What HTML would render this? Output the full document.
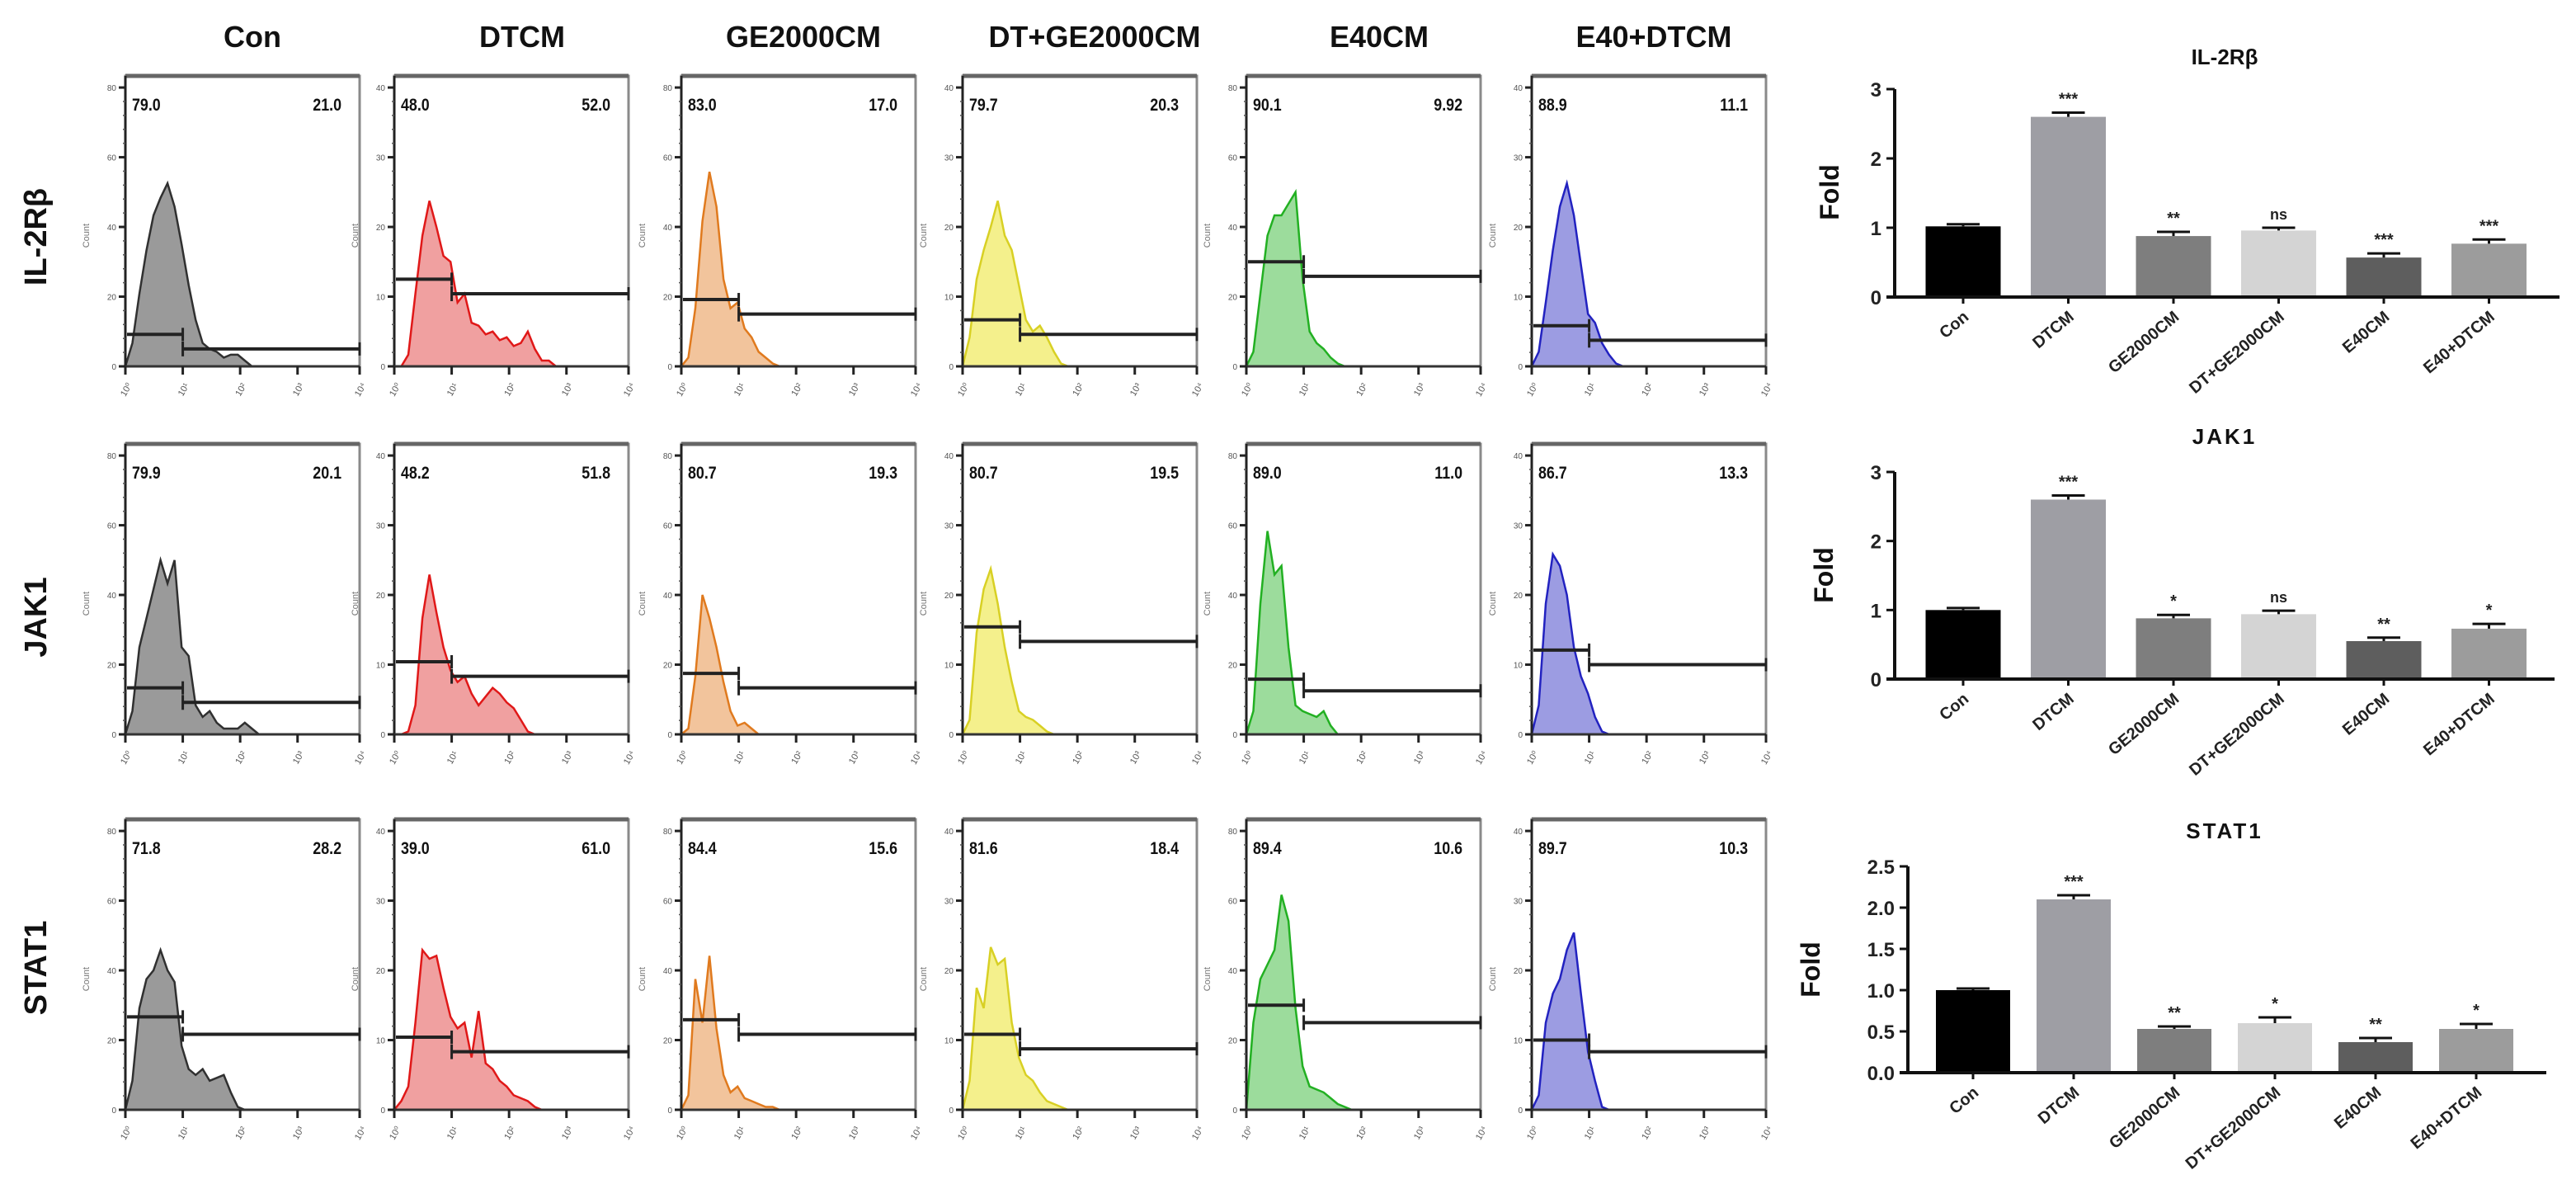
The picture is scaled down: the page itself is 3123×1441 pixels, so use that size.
<!DOCTYPE html>
<html><head><meta charset="utf-8">
<style>
html,body{margin:0;padding:0;background:#fff;}
svg{display:block;font-family:"Liberation Sans",Arial,sans-serif;}
</style></head>
<body>
<svg id="fig" width="3123" height="1441" viewBox="0 0 3123 1441" xmlns="http://www.w3.org/2000/svg">
<rect x="0" y="0" width="3123" height="1441" fill="#fff"/>
</svg>
<script>
// ===== Flow cytometry data =====
const groups = ["Con","DTCM","GE2000CM","DT+GE2000CM","E40CM","E40+DTCM"];
const markers = ["IL-2Rβ","JAK1","STAT1"];
const leftPct = [["79.0","48.0","83.0","79.7","90.1","88.9"],["79.9","48.2","80.7","80.7","89.0","86.7"],["71.8","39.0","84.4","81.6","89.4","89.7"]];
const rightPct = [["21.0","52.0","17.0","20.3","9.92","11.1"],["20.1","51.8","19.3","19.5","11.0","13.3"],["28.2","61.0","15.6","18.4","10.6","10.3"]];
const gateLeftH = [[0.11,0.30,0.23,0.16,0.36,0.14],[0.16,0.25,0.21,0.37,0.19,0.29],[0.32,0.25,0.31,0.26,0.36,0.24]];
const gateRightH = [[0.06,0.25,0.18,0.11,0.31,0.09],[0.11,0.20,0.16,0.32,0.15,0.24],[0.26,0.20,0.26,0.21,0.30,0.20]];
const histIL2 = [
 [0,.08,.25,.40,.52,.58,.63,.55,.42,.28,.16,.08,.06,.05,.03,.04,.04,.02,0,0,0,0,0,0,0],
 [0,0,.04,.25,.45,.57,.48,.38,.36,.22,.25,.15,.14,.11,.12,.09,.10,.07,.08,.12,.06,.02,.02,0,0],
 [0,.03,.20,.50,.67,.55,.30,.20,.22,.13,.10,.05,.03,.01,0,0,0,0,0,0,0,0,0,0,0],
 [0,.10,.30,.40,.48,.57,.45,.40,.28,.16,.12,.14,.10,.05,.01,0,0,0,0,0,0,0,0,0,0],
 [0,.05,.25,.45,.52,.52,.56,.60,.30,.12,.08,.06,.03,.01,0,0,0,0,0,0,0,0,0,0,0],
 [0,.05,.22,.40,.55,.63,.52,.35,.18,.15,.08,.04,.01,0,0,0,0,0,0,0,0,0,0,0,0]];
const histJAK1 = [
 [0,.08,.30,.40,.50,.60,.52,.60,.30,.27,.10,.06,.08,.04,.02,.02,.02,.04,.02,0,0,0,0,0,0],
 [0,0,.01,.10,.40,.55,.42,.30,.22,.18,.20,.14,.10,.13,.16,.14,.11,.09,.05,.01,0,0,0,0,0],
 [0,.02,.20,.48,.40,.30,.18,.08,.03,.04,.02,0,0,0,0,0,0,0,0,0,0,0,0,0,0],
 [0,.05,.35,.50,.57,.45,.30,.18,.08,.06,.05,.03,.01,0,0,0,0,0,0,0,0,0,0,0,0],
 [0,.08,.45,.70,.55,.58,.30,.10,.08,.07,.06,.08,.03,0,0,0,0,0,0,0,0,0,0,0,0],
 [0,.10,.45,.62,.58,.48,.30,.20,.14,.06,.01,0,0,0,0,0,0,0,0,0,0,0,0,0,0]];
const histSTAT1 = [
 [0,.10,.35,.45,.48,.55,.48,.44,.22,.14,.12,.14,.10,.11,.12,.06,.01,0,0,0,0,0,0,0,0],
 [0,.03,.08,.30,.55,.52,.53,.42,.32,.28,.30,.18,.34,.16,.14,.10,.08,.05,.04,.03,.01,0,0,0,0],
 [0,.05,.45,.30,.53,.28,.12,.06,.08,.04,.03,.02,.01,.01,0,0,0,0,0,0,0,0,0,0,0],
 [0,.10,.42,.35,.56,.50,.52,.30,.18,.12,.10,.06,.03,.02,.01,0,0,0,0,0,0,0,0,0,0],
 [0,.30,.45,.50,.55,.74,.65,.35,.15,.08,.07,.06,.04,.02,.01,0,0,0,0,0,0,0,0,0,0],
 [0,.05,.30,.40,.45,.55,.61,.40,.20,.10,.01,0,0,0,0,0,0,0,0,0,0,0,0,0,0]];
const histograms = [histIL2, histJAK1, histSTAT1];
const decadeLabels = ["10⁰","10¹","10²","10³","10⁴"];

// ===== Bar chart data =====
const barCats = ["Con","DTCM","GE2000CM","DT+GE2000CM","E40CM","E40+DTCM"];
const il2Values = [1.02,2.60,0.88,0.96,0.57,0.77];
const il2Errors = [0.03,0.06,0.06,0.04,0.06,0.06];
const il2Sig = ["","***","**","ns","***","***"];
const jak1Values = [1.00,2.60,0.88,0.94,0.55,0.73];
const jak1Errors = [0.03,0.06,0.05,0.05,0.05,0.07];
const jak1Sig = ["","***","*","ns","**","*"];
const stat1Values = [1.00,2.10,0.53,0.60,0.37,0.53];
const stat1Errors = [0.02,0.05,0.03,0.07,0.05,0.06];
const stat1Sig = ["","***","**","*","**","*"];
const ticks3 = [0,1,2,3];
const ticks25 = [0,0.5,1.0,1.5,2.0,2.5];

const NS="http://www.w3.org/2000/svg";
const svg=document.getElementById('fig');
function mk(tag,attrs,parent){const e=document.createElementNS(NS,tag);for(const k in attrs)e.setAttribute(k,attrs[k]);(parent||svg).appendChild(e);return e;}

const colX=[152,478,826,1167,1511,1857];
const rowTop=[92,538,993];
const PW=284, PH=352;
const fills=["#9a9a9a","#f0a0a0","#f2c49c","#f4f08c","#9cdc9c","#9c9ce2"];
const strokes=["#303030","#e01818","#e07a1e","#d8d024","#22b022","#2222c0"];
const headX=[306,633,974,1327,1672,2005];

groups.forEach((g,c)=>{
  const t=mk('text',{x:headX[c],y:57,'text-anchor':'middle','font-size':36,'font-weight':'bold',fill:'#111'});
  
  
  t.textContent=g;
});
const rowLabelY=[287,748,1173];
markers.forEach((m,r)=>{
  const t=mk('text',{x:0,y:0,transform:`translate(56,${rowLabelY[r]}) rotate(-90)`,'text-anchor':'middle','font-size':38,'font-weight':'bold',fill:'#111'});
  
  
  t.textContent=m;
});

for(let r=0;r<3;r++){
  for(let c=0;c<6;c++){
    const x0=colX[c], y0=rowTop[r], base=y0+PH;
    const g=mk('g',{});
    
    
    const xs=f=>x0+f*PW, ys=f=>base-f*PH;
    mk('rect',{x:x0,y:y0,width:PW,height:PH,fill:'none',stroke:'#8a8a8a','stroke-width':3},g);
    mk('line',{x1:x0,y1:y0,x2:x0+PW,y2:y0,stroke:'#666','stroke-width':5},g);
    const d=histograms[r][c];
    let p=`M${xs(0)},${base}`;
    d.forEach((v,i)=>{p+=` L${xs(i*0.03).toFixed(1)},${ys(v).toFixed(1)}`;});
    p+=` L${xs(0.75)},${base} Z`;
    const h=mk('path',{d:p,fill:fills[c],stroke:strokes[c],'stroke-width':2.5,'stroke-linejoin':'miter'},g);
    
    
    mk('line',{x1:x0,y1:y0,x2:x0,y2:base+6,stroke:'#222','stroke-width':3},g);
    mk('line',{x1:x0,y1:base,x2:x0+PW,y2:base,stroke:'#333','stroke-width':3},g);
    for(let k=0;k<5;k++){
      const ty=base-k*0.24*PH;
      mk('line',{x1:x0-8,y1:ty,x2:x0,y2:ty,stroke:'#222','stroke-width':3},g);
      const tl=mk('text',{x:x0-11,y:ty+4,'text-anchor':'end','font-size':10,fill:'#555'},g);
      tl.textContent=String(k*(c%2?10:20));
      if(k<4) for(let m=1;m<5;m++) mk('line',{x1:x0-3,y1:ty-m*0.048*PH,x2:x0,y2:ty-m*0.048*PH,stroke:'#555','stroke-width':1.5},g);
    }
    decadeLabels.forEach((lb,k)=>{
      const xx=k==4?x0+PW:x0+k*0.245*PW;
      mk('line',{x1:xx,y1:base,x2:xx,y2:base+10,stroke:'#222','stroke-width':3},g);
      const tl=mk('text',{x:0,y:0,transform:`translate(${xx+4},${base+30}) rotate(-60)`,'text-anchor':'middle','font-size':11,fill:'#555'},g);
      tl.textContent=lb;
    });
    const cl=mk('text',{x:0,y:0,transform:`translate(${x0-44},${y0+PH*0.55}) rotate(-90)`,'text-anchor':'middle','font-size':11,fill:'#777'},g);
    cl.textContent='Count';
    const sx=xs(0.245), hl=ys(gateLeftH[r][c]), hr=ys(gateRightH[r][c]);
    const gl=mk('line',{x1:x0+2,y1:hl,x2:sx,y2:hl,stroke:'#222','stroke-width':4},g);
    
    
    mk('line',{x1:sx,y1:hl-8,x2:sx,y2:hl+8,stroke:'#222','stroke-width':3},g);
    const gr=mk('line',{x1:sx,y1:hr,x2:x0+PW,y2:hr,stroke:'#222','stroke-width':4},g);
    
    
    mk('line',{x1:sx,y1:hr-9,x2:sx,y2:hr+9,stroke:'#222','stroke-width':3},g);
    mk('line',{x1:x0+PW,y1:hr-8,x2:x0+PW,y2:hr+8,stroke:'#222','stroke-width':3},g);
    const lp=mk('text',{x:0,y:0,'font-size':21,fill:'#111','font-weight':'bold',transform:`translate(${x0+8},${y0+42}) scale(0.85,1)`},g);
    
    
    lp.textContent=leftPct[r][c];
    const rp=mk('text',{x:0,y:0,'font-size':21,fill:'#111','font-weight':'bold','text-anchor':'end',transform:`translate(${x0+PW-22},${y0+42}) scale(0.85,1)`},g);
    
    
    rp.textContent=rightPct[r][c];
  }
}

// ===== bar charts =====
const barFills=["#000000","#9e9ea4","#7e7e7e","#d4d4d4","#5e5e5e","#9c9c9c"];
function barChart(cfg){
  const g=mk('g',{});
  
  
  const yS=v=>cfg.y0-(v/cfg.max)*(cfg.y0-cfg.yTop);
  const xC=i=>cfg.first+i*cfg.pitch;
  const tt=mk('text',{x:cfg.titleX,y:cfg.titleY,'text-anchor':'middle','font-size':26,'font-weight':'bold',fill:'#111','letter-spacing':cfg.ls||0},g);
  
  
  tt.textContent=cfg.title;
  cfg.values.forEach((v,i)=>{
    const b=mk('rect',{x:xC(i)-cfg.bw/2,y:yS(v),width:cfg.bw,height:cfg.y0-yS(v),fill:barFills[i]},g);
    
    
    const e=cfg.errors[i];
    mk('line',{x1:xC(i),y1:yS(v),x2:xC(i),y2:yS(v+e),stroke:'#111','stroke-width':3},g);
    mk('line',{x1:xC(i)-20,y1:yS(v+e),x2:xC(i)+20,y2:yS(v+e),stroke:'#111','stroke-width':3},g);
    if(cfg.sig[i]){
      const s=mk('text',{x:xC(i),y:yS(v+e)-10,'text-anchor':'middle','font-size':cfg.sig[i]=='ns'?18:20,'font-weight':'bold',fill:'#222'},g);
      
      
      s.textContent=cfg.sig[i];
    }
    mk('line',{x1:xC(i),y1:cfg.y0,x2:xC(i),y2:cfg.y0+8,stroke:'#111','stroke-width':3},g);
    const lb=mk('text',{x:0,y:0,transform:`translate(${xC(i)+8},${cfg.y0+26}) rotate(-40)`,'text-anchor':'end','font-size':20,'font-weight':'bold',fill:'#222'},g);
    
    
    lb.textContent=barCats[i];
  });
  mk('line',{x1:cfg.ax,y1:cfg.yTop,x2:cfg.ax,y2:cfg.y0,stroke:'#111','stroke-width':4},g);
  const xa=mk('line',{x1:cfg.ax-10,y1:cfg.y0,x2:cfg.xEnd,y2:cfg.y0,stroke:'#111','stroke-width':4},g);
  
  
  cfg.ticks.forEach(t=>{
    mk('line',{x1:cfg.ax-10,y1:yS(t),x2:cfg.ax,y2:yS(t),stroke:'#111','stroke-width':3},g);
    const tl=mk('text',{x:cfg.ax-16,y:yS(t)+9,'text-anchor':'end','font-size':24,'font-weight':'bold',fill:'#222'},g);
    
    
    tl.textContent=cfg.dec?t.toFixed(1):String(t);
  });
  const yl=mk('text',{x:0,y:0,transform:`translate(${cfg.foldX},${cfg.foldY}) rotate(-90)`,'text-anchor':'middle','font-size':32,'font-weight':'bold',fill:'#111'},g);
  
  
  yl.textContent='Fold';
}
barChart({name:'bar-chart-il2rb',title:'IL-2Rβ',titleX:2697,titleY:78,values:il2Values,errors:il2Errors,sig:il2Sig,ticks:ticks3,max:3,y0:360,yTop:108,ax:2297,xEnd:3103,first:2380,pitch:127.5,bw:91,foldX:2229,foldY:233});
barChart({name:'bar-chart-jak1',title:'JAK1',titleX:2697,titleY:538,ls:3,values:jak1Values,errors:jak1Errors,sig:jak1Sig,ticks:ticks3,max:3,y0:823,yTop:572,ax:2297,xEnd:3097,first:2380,pitch:127.5,bw:91,foldX:2222,foldY:697});
barChart({name:'bar-chart-stat1',title:'STAT1',titleX:2697,titleY:1016,ls:3,values:stat1Values,errors:stat1Errors,sig:stat1Sig,ticks:ticks25,max:2.5,dec:true,y0:1300,yTop:1050,ax:2313,xEnd:3087,first:2392,pitch:122,bw:90,foldX:2206,foldY:1175});
</script>
</body></html>
